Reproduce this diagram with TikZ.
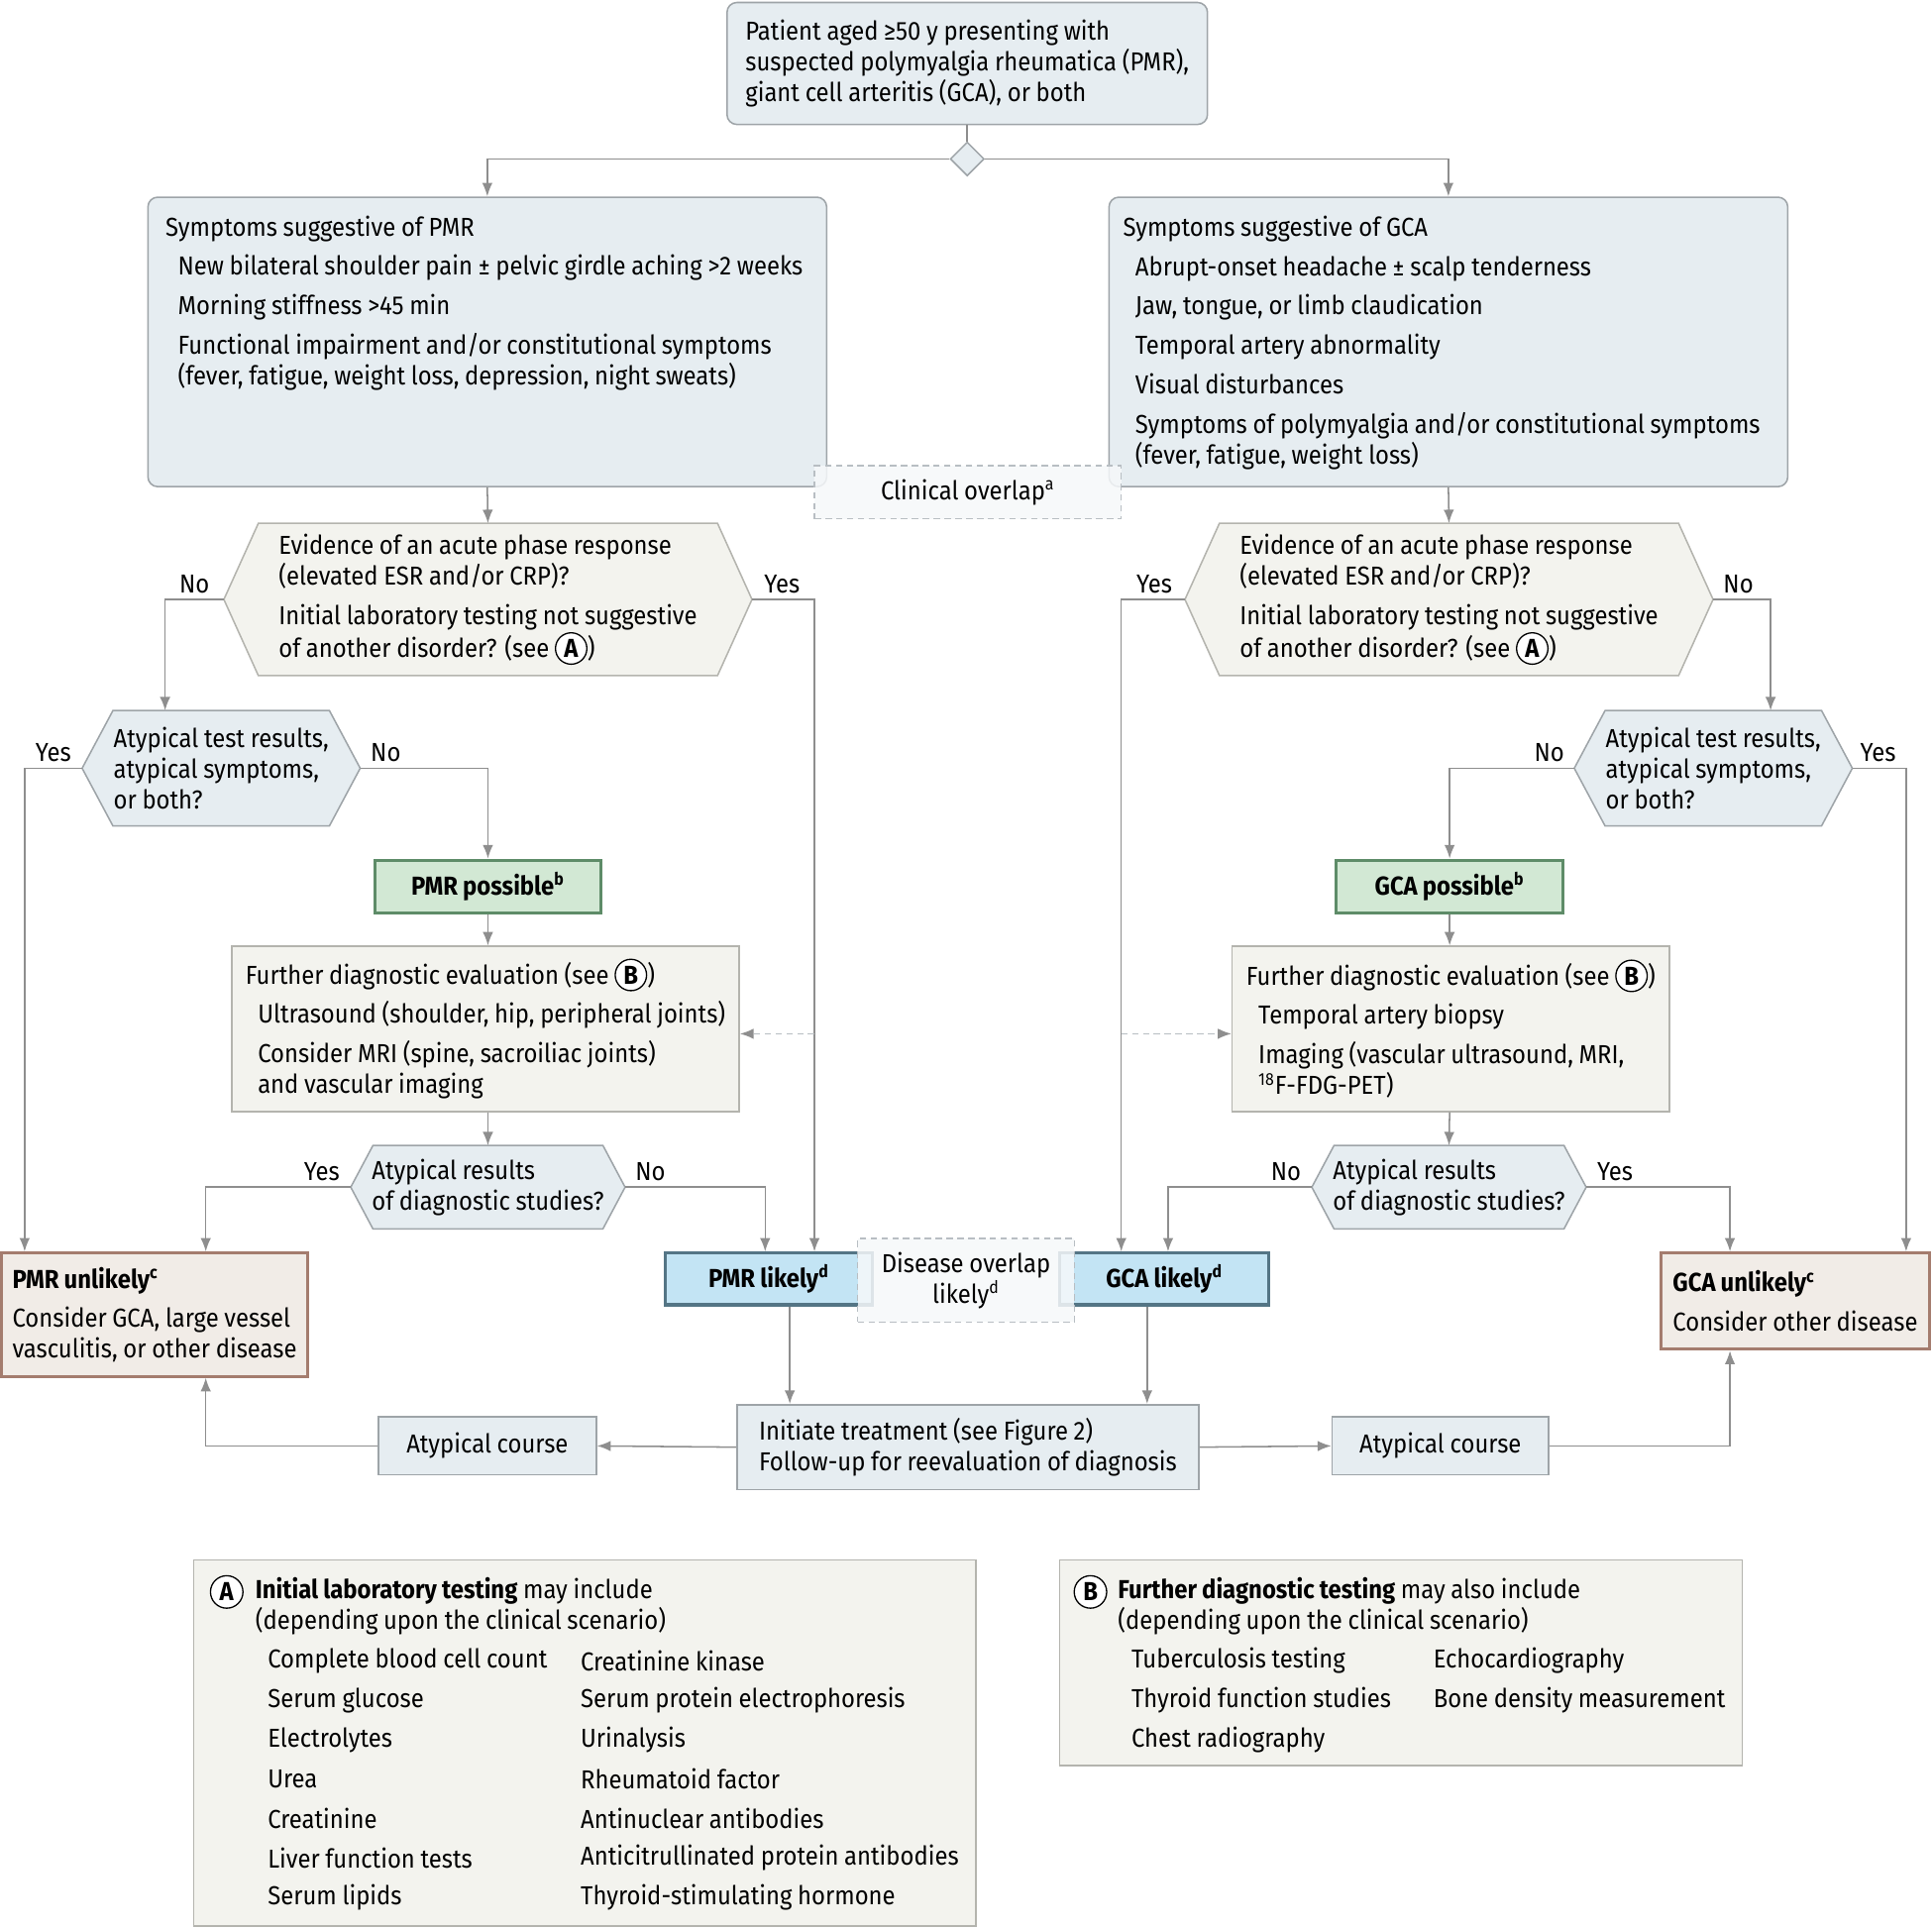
\documentclass[tikz,border=0pt]{standalone}
\usepackage{fontspec}
\setmainfont[FakeStretch=0.91, WordSpace=0.9]{Fira Sans}
\usetikzlibrary{arrows.meta,calc,shapes.geometric,backgrounds}

\definecolor{bluefill}{HTML}{E6EDF1}
\definecolor{bluedraw}{HTML}{9EA4A8}
\definecolor{beigefill}{HTML}{F3F3EE}
\definecolor{beigedraw}{HTML}{B4B4AE}
\definecolor{greenfill}{HTML}{D2E8D4}
\definecolor{greendraw}{HTML}{5E8C68}
\definecolor{likelyfill}{HTML}{C3E4F4}
\definecolor{likelydraw}{HTML}{547585}
\definecolor{unlikelyfill}{HTML}{F1ECE7}
\definecolor{unlikelydraw}{HTML}{A47C6E}
\definecolor{overlapfill}{HTML}{F6F8FA}
\definecolor{dashgray}{HTML}{B8BEC3}
\definecolor{linegray}{HTML}{8E8E8E}

\def\hexframe[#1](#2)(#3){\draw[#1] ($(#2.north west)+(#3,0)$) -- ($(#2.north east)+(-#3,0)$) -- (#2.east) -- ($(#2.south east)+(-#3,0)$) -- ($(#2.south west)+(#3,0)$) -- (#2.west) -- cycle;}
\newcommand{\ind}{\hspace*{0.2cm}}
\newcommand{\circled}[1]{\tikz[baseline=(cl.base)]\node[circle, draw=black, fill=white, line width=0.6pt, inner sep=0pt, minimum size=14.5pt, text width=, align=center] (cl) {\textbf{#1}};}

\tikzset{
  box/.style={rectangle, line width=0.7pt, inner sep=0pt, align=left},
  bluebox/.style={box, draw=bluedraw, fill=bluefill},
  beigebox/.style={box, draw=beigedraw, fill=beigefill},
  possiblebox/.style={box, draw=greendraw, fill=greenfill, line width=1.4pt, align=center},
  likelybox/.style={box, draw=likelydraw, fill=likelyfill, line width=1.4pt, align=center},
  unlikelybox/.style={box, draw=unlikelydraw, fill=unlikelyfill, line width=1.4pt},
  overlapbox/.style={box, draw=dashgray, fill=overlapfill, fill opacity=0.85, text opacity=1, dash pattern=on 3pt off 2pt, line width=0.6pt, align=center},
  hextext/.style={inner sep=0pt, align=left},
  bluehex/.style={draw=bluedraw, fill=bluefill, line width=0.7pt},
  beigehex/.style={draw=beigedraw, fill=beigefill, line width=0.7pt},
  conn/.style={draw=linegray, line width=0.7pt},
  arr/.style={conn, -{Latex[length=2.2mm, width=1.7mm]}},
  dasharr/.style={draw=dashgray, line width=0.7pt, dash pattern=on 3pt off 2pt, -{Latex[length=2.2mm, width=1.7mm, color=linegray]}},
  yn/.style={above, inner sep=2.5pt},
  circlabel/.style={circle, draw=black, fill=white, line width=0.6pt, inner sep=0pt, minimum size=15pt},
  listitem/.style={anchor=west, inner sep=0pt}
}

\begin{document}
\begin{tikzpicture}[x=0.02cm, y=-0.02cm, font=\fontsize{12}{14.2}\selectfont]
  \useasboundingbox (0,0) rectangle (1568,1566);

  %%%%% START %%%%%
  \node[bluebox, rounded corners=0.16cm, minimum width=7.8cm, minimum height=1.98cm] (start) at (785,51.5)
    {Patient aged ≥50 y presenting with\\suspected polymyalgia rheumatica (PMR),\\giant cell arteritis (GCA), or both};
  \node[bluebox, diamond, minimum width=0.55cm, minimum height=0.55cm] (split) at (785,129) {};

  %%%%% SYMPTOMS %%%%%
  \node[bluebox, rounded corners=0.16cm, minimum width=11.02cm, minimum height=4.7cm] (pmrsym) at (395.5,277.5) {};
  \node[hextext] (pmrtxt) at (393,246)
    {Symptoms suggestive of PMR\\[4pt]
     \ind New bilateral shoulder pain ± pelvic girdle aching >2 weeks\\[4pt]
     \ind Morning stiffness >45 min\\[4pt]
     \ind Functional impairment and/or constitutional symptoms\\
     \ind (fever, fatigue, weight loss, depression, night sweats)};
  \node[bluebox, rounded corners=0.16cm, minimum width=11.02cm, minimum height=4.7cm] (gcasym) at (1175.5,277.5) {};
  \node[hextext] (gcatxt) at (1170,278)
    {Symptoms suggestive of GCA\\[4pt]
     \ind Abrupt-onset headache ± scalp tenderness\\[4pt]
     \ind Jaw, tongue, or limb claudication\\[4pt]
     \ind Temporal artery abnormality\\[4pt]
     \ind Visual disturbances\\[4pt]
     \ind Symptoms of polymyalgia and/or constitutional symptoms\\
     \ind (fever, fatigue, weight loss)};
  \node[overlapbox, minimum width=4.98cm, minimum height=0.86cm] (clinov) at (785.5,399.5) {Clinical overlap\textsuperscript{a}};

  %%%%% ACUTE PHASE %%%%%
  \node[hextext, minimum width=8.56cm, minimum height=2.46cm] (evL) at (396,486.5)
    {Evidence of an acute phase response\\(elevated ESR and/or CRP)?\\[4pt]Initial laboratory testing not suggestive\\of another disorder? (see \circled{A})};
  \node[hextext, minimum width=8.56cm, minimum height=2.46cm] (evR) at (1176,486.5)
    {Evidence of an acute phase response\\(elevated ESR and/or CRP)?\\[4pt]Initial laboratory testing not suggestive\\of another disorder? (see \circled{A})};

  \node[hextext, minimum width=4.5cm, minimum height=1.86cm] (atL) at (179.5,623.5)
    {Atypical test results,\\atypical symptoms,\\or both?};
  \node[hextext, minimum width=4.5cm, minimum height=1.86cm] (atR) at (1390.5,623.5)
    {Atypical test results,\\atypical symptoms,\\or both?};

  \node[possiblebox, minimum width=3.68cm, minimum height=0.86cm] (pmrpos) at (396,719.5) {\textbf{PMR possible\textsuperscript{b}}};
  \node[possiblebox, minimum width=3.68cm, minimum height=0.86cm] (gcapos) at (1176.5,719.5) {\textbf{GCA possible\textsuperscript{b}}};

  %%%%% FURTHER EVALUATION %%%%%
  \node[beigebox, minimum width=8.24cm, minimum height=2.68cm] (furL) at (394,835)
    {Further diagnostic evaluation (see \circled{B})\\[4pt]
     \ind Ultrasound (shoulder, hip, peripheral joints)\\[4pt]
     \ind Consider MRI (spine, sacroiliac joints)\\
     \ind and vascular imaging};
  \node[beigebox, minimum width=7.1cm, minimum height=2.68cm] (furR) at (1177.5,835)
    {Further diagnostic evaluation (see \circled{B})\\[4pt]
     \ind Temporal artery biopsy\\[4pt]
     \ind Imaging (vascular ultrasound, MRI,\\
     \ind \textsuperscript{18}F-FDG-PET)};

  \node[hextext, minimum width=4.44cm, minimum height=1.34cm] (arL) at (396,963.5)
    {Atypical results\\of diagnostic studies?};
  \node[hextext, minimum width=4.44cm, minimum height=1.34cm] (arR) at (1176,963.5)
    {Atypical results\\of diagnostic studies?};

  %%%%% OUTCOMES %%%%%
  \node[unlikelybox, minimum width=4.98cm, minimum height=2cm] (pmrun) at (125.5,1067)
    {\textbf{PMR unlikely\textsuperscript{c}}\\[4pt]Consider GCA, large vessel\\vasculitis, or other disease};
  \node[unlikelybox, minimum width=4.36cm, minimum height=1.56cm] (gcaun) at (1457,1056)
    {\textbf{GCA unlikely\textsuperscript{c}}\\[4pt]Consider other disease};
  \node[likelybox, minimum width=3.36cm, minimum height=0.84cm] (pmrlik) at (624,1038) {\textbf{PMR likely\textsuperscript{d}}};
  \node[likelybox, minimum width=3.4cm, minimum height=0.84cm] (gcalik) at (945,1038) {\textbf{GCA likely\textsuperscript{d}}};
  \node[overlapbox, minimum width=3.52cm, minimum height=1.36cm] (disov) at (784,1039) {Disease overlap\\likely\textsuperscript{d}};

  \node[bluebox, minimum width=7.5cm, minimum height=1.38cm] (treat) at (785.5,1174.5)
    {Initiate treatment (see Figure 2)\\Follow-up for reevaluation of diagnosis};
  \node[bluebox, align=center, minimum width=3.54cm, minimum height=0.94cm] (acL) at (395.5,1173.5) {Atypical course};
  \node[bluebox, align=center, minimum width=3.52cm, minimum height=0.94cm] (acR) at (1169,1173.5) {Atypical course};

  %%%%% CONNECTORS %%%%%
  \draw[conn] (start.south) -- (split.north);
  \draw[arr] (split.west) -| (pmrsym.north);
  \draw[arr] (split.east) -| (gcasym.north);
  \draw[arr] (pmrsym.south) -- (evL.north);
  \draw[arr] (gcasym.south) -- (evR.north);

  \draw[arr] (evL.west) -| node[yn, pos=0.25] {No} ($(atL.north)+(-45.5,0)$);
  \draw[arr] (evL.east) -| node[yn, pos=0.24] {Yes} ($(pmrlik.north)+(37,0)$);
  \draw[arr] (evR.west) -| node[yn, pos=0.24] {Yes} ($(gcalik.north)+(-35,0)$);
  \draw[arr] (evR.east) -| node[yn, pos=0.22] {No} ($(atR.north)+(46.5,0)$);

  \draw[arr] (atL.west) -| node[yn, pos=0.25] {Yes} ($(pmrun.north)+(-105.5,0)$);
  \draw[arr] (atL.east) -| node[yn, pos=0.1] {No} (pmrpos.north);
  \draw[arr] (atR.west) -| node[yn, pos=0.1] {No} (gcapos.north);
  \draw[arr] (atR.east) -| node[yn, pos=0.24] {Yes} ($(gcaun.north)+(90,0)$);

  \draw[arr] (pmrpos.south) -- (pmrpos.south |- furL.north);
  \draw[arr] (gcapos.south) -- (gcapos.south |- furR.north);
  \draw[arr] (pmrpos.south |- furL.south) -- (arL.north);
  \draw[arr] (gcapos.south |- furR.south) -- (arR.north);

  \coordinate (ovL) at (661,839);
  \coordinate (ovR) at (910,839);
  \draw[dasharr] (ovL) -- (ovL -| furL.east);
  \draw[dasharr] (ovR) -- (ovR -| furR.west);

  \draw[arr] (arL.west) -| node[yn, pos=0.1] {Yes} ($(pmrun.north)+(41.5,0)$);
  \draw[arr] (arL.east) -| node[yn, pos=0.09] {No} ($(pmrlik.north)+(-3,0)$);
  \draw[arr] (arR.west) -| node[yn, pos=0.09] {No} ($(gcalik.north)+(3,0)$);
  \draw[arr] (arR.east) -| node[yn, pos=0.1] {Yes} ($(gcaun.north)+(-53,0)$);

  \draw[arr] ($(pmrlik.south)+(17,0)$) coordinate (pl) -- (pl |- treat.north);
  \draw[arr] ($(gcalik.south)+(-14,0)$) coordinate (gl) -- (gl |- treat.north);
  \draw[arr] (treat.west) -- (acL.east);
  \draw[arr] (acL.west) -| ($(pmrun.south)+(41.5,0)$);
  \draw[arr] (treat.east) -- (acR.west);
  \draw[arr] (acR.east) -| ($(gcaun.south)+(-53,0)$);

  %%%%% LEGEND A %%%%%
  \node[beigebox, minimum width=12.7cm, minimum height=5.94cm] (boxA) at (474.5,1414.5) {};
  \node[circlabel] (cA) at (184,1292) {\textbf{A}};
  \node[listitem, align=left] (headA) at (207,1303.5) {\textbf{Initial laboratory testing} may include\\(depending upon the clinical scenario)};
  \foreach \lab [count=\i from 0] in {Complete blood cell count, Serum glucose, Electrolytes, Urea, Creatinine, Liver function tests, Serum lipids}
    \node[listitem] (la\i) at (217,1348+32*\i) {\lab};
  \foreach \lab [count=\i from 0] in {Creatinine kinase, Serum protein electrophoresis, Urinalysis, Rheumatoid factor, Antinuclear antibodies, Anticitrullinated protein antibodies, Thyroid-stimulating hormone}
    \node[listitem] (lb\i) at (471,1348+32*\i) {\lab};

  %%%%% LEGEND B %%%%%
  \node[beigebox, minimum width=11.08cm, minimum height=3.34cm] (boxB) at (1137,1349.5) {};
  \node[circlabel] (cB) at (885,1292) {\textbf{B}};
  \node[listitem, align=left] (headB) at (907,1303.5) {\textbf{Further diagnostic testing} may also include\\(depending upon the clinical scenario)};
  \foreach \lab [count=\i from 0] in {Tuberculosis testing, Thyroid function studies, Chest radiography}
    \node[listitem] (ta\i) at (918,1348+32*\i) {\lab};
  \foreach \lab [count=\i from 0] in {Echocardiography, Bone density measurement}
    \node[listitem] (tb\i) at (1163,1348+32*\i) {\lab};

  %%%%% HEXAGONS %%%%%
  \begin{scope}[on background layer]
    \fill[white] (0,0) rectangle (1568,1566);
    \hexframe[beigehex](evL)(28)
    \hexframe[beigehex](evR)(28)
    \hexframe[bluehex](atL)(25)
    \hexframe[bluehex](atR)(25)
    \hexframe[bluehex](arL)(18)
    \hexframe[bluehex](arR)(18)
  \end{scope}
  %%%%% END %%%%%
\end{tikzpicture}
\end{document}
